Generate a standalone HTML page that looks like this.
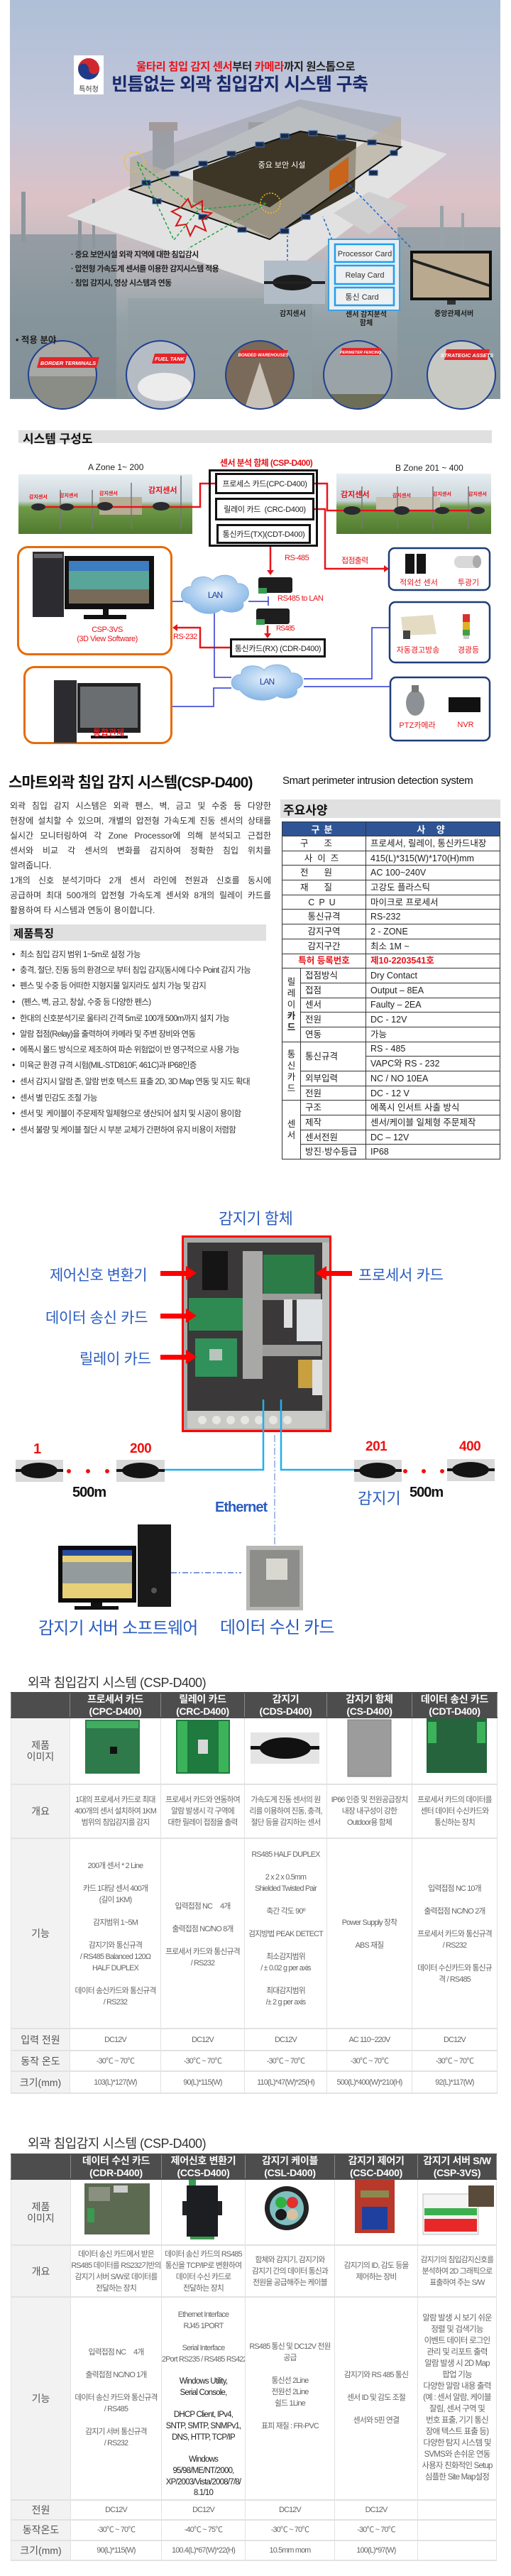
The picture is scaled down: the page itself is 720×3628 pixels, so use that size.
<!DOCTYPE html>
<html><head><meta charset="utf-8">
<style>
*{margin:0;padding:0;box-sizing:border-box}
body{width:720px;height:3628px;position:relative;background:#fff;overflow:hidden;font-family:"Liberation Sans","Noto Sans CJK KR",sans-serif;color:#222}
.a{position:absolute;white-space:nowrap}
.c{text-align:center}
.bx{position:absolute;border:3px solid #111;background:#fff;font-size:11px;display:flex;align-items:center;justify-content:center;letter-spacing:-0.3px}
.red{color:#e8141b}
.lbl{position:absolute;font-size:11px;white-space:nowrap;transform:translate(-50%,-50%)}
.blu{color:#2a5cc0;font-weight:bold}
.para div{position:absolute;left:14px;width:368px;font-size:12px;text-align:justify;text-align-last:justify;color:#333;line-height:14px;white-space:nowrap}
.bul div{position:absolute;left:17px;font-size:11.5px;letter-spacing:-0.7px;color:#333;white-space:nowrap;line-height:14px}
.bul div:before{content:"•";display:inline-block;width:11px;font-size:12px;color:#111}
table{border-collapse:collapse;table-layout:fixed;position:absolute}
.spec td{border:1.5px solid #333;font-size:12.5px;height:20.7px;padding:0 0 0 6px;white-space:nowrap;color:#222;line-height:16px}
.spec td.k{text-align:center;padding:0}
.spec th{background:#2f5496;color:#fff;font-size:13px;height:20px;border:1.5px solid #333;letter-spacing:6px}
.grp{text-align:center;font-size:12.5px;line-height:16px;padding:0!important}
.pt td,.pt th{border:1px solid #e2e2e2;border-width:2px 1px;text-align:center;font-size:10.8px;color:#666;letter-spacing:-0.8px;line-height:16px;padding:0;white-space:nowrap;overflow:hidden}
.pt th{background:#4d4d4d;color:#fff;font-size:14px;font-weight:bold;border-color:#4d4d4d #888;line-height:16.5px;letter-spacing:-0.3px}
.pt td.h{background:#f2f2f2;font-size:14px;color:#555;letter-spacing:0}
.pt td.t{vertical-align:top}
.pt td{vertical-align:middle}
</style></head><body>

<!-- HERO -->
<svg class="a" style="left:0;top:0" width="720" height="585" viewBox="0 0 720 585">
<defs>
<linearGradient id="sky" x1="0" y1="0" x2="0" y2="1">
<stop offset="0" stop-color="#aebfd7"/><stop offset="0.3" stop-color="#c3c6d8"/><stop offset="0.5" stop-color="#dcc2c6"/><stop offset="0.62" stop-color="#c4bcc0"/><stop offset="0.8" stop-color="#94a2a8"/><stop offset="1" stop-color="#8a9598"/></linearGradient>
<clipPath id="c1"><circle cx="88" cy="528" r="47"/></clipPath>
<clipPath id="c2"><circle cx="226" cy="528" r="47"/></clipPath>
<clipPath id="c3"><circle cx="366" cy="528" r="47"/></clipPath>
<clipPath id="c4"><circle cx="504" cy="528" r="47"/></clipPath>
<clipPath id="c5"><circle cx="650" cy="528" r="47"/></clipPath>
</defs>
<rect x="14" y="0" width="691" height="562" fill="url(#sky)"/>
<rect x="215" y="180" width="30" height="110" fill="#9c9ea6"/><rect x="210" y="172" width="40" height="12" fill="#a39a9c"/>
<rect x="355" y="180" width="28" height="80" fill="#9c9ea6"/><rect x="350" y="172" width="38" height="12" fill="#a39a9c"/>
<rect x="14" y="330" width="150" height="230" fill="#7f8f96" opacity="0.7"/>
<rect x="560" y="320" width="145" height="240" fill="#84959c" opacity="0.7"/>
<rect x="30" y="270" width="6" height="70" fill="#8c969c"/><rect x="110" y="300" width="5" height="60" fill="#8c969c"/><rect x="130" y="280" width="4" height="70" fill="#8c969c"/>
<rect x="620" y="290" width="5" height="60" fill="#99a4a8"/><rect x="650" y="300" width="4" height="60" fill="#99a4a8"/>
<rect x="180" y="420" width="260" height="140" fill="#8f9ea4" opacity="0.6"/>
<polygon points="94,304 420,150 630,217 383,404" fill="#e2e2e2"/>
<polygon points="272,240 422,185 502,200 500,270 380,335 272,285" fill="#3d3626"/>
<polygon points="183,267 423,185 423,140 183,222" fill="#9aa0a6" opacity="0.55"/>
<polygon points="423,185 565,207 565,165 423,140" fill="#9aa0a6" opacity="0.55"/>
<polygon points="183,267 380,337 380,292 183,222" fill="#b8b0a0" opacity="0.75"/>
<polygon points="380,337 565,207 565,165 380,292" fill="#b8b0a0" opacity="0.75"/>
<polygon points="183,267 423,185 565,207 380,337" fill="none" stroke="#111" stroke-width="2"/>
<g fill="#1b2a44" stroke="#3a6ec0" stroke-width="1">
<rect x="200" y="254" width="12" height="7"/><rect x="240" y="241" width="12" height="7"/><rect x="280" y="227" width="12" height="7"/><rect x="320" y="213" width="12" height="7"/><rect x="360" y="200" width="12" height="7"/><rect x="395" y="188" width="12" height="7"/>
<rect x="435" y="184" width="12" height="7"/><rect x="475" y="190" width="12" height="7"/><rect x="518" y="197" width="12" height="7"/><rect x="550" y="212" width="10" height="7"/>
<rect x="215" y="280" width="12" height="7"/><rect x="280" y="302" width="12" height="7"/><rect x="335" y="320" width="12" height="7"/>
<rect x="395" y="322" width="12" height="7"/><rect x="425" y="302" width="12" height="7"/><rect x="520" y="240" width="12" height="7"/>
</g>
<polygon points="464,241 491,221 491,255 464,270" fill="#c8651a"/>
<polygon points="470,300 520,270 575,290 520,330" fill="#cfcfcf"/>
<circle cx="189" cy="228" r="14" fill="none" stroke="#f2c21b" stroke-width="1.5" stroke-dasharray="2,2"/>
<circle cx="381" cy="286" r="14" fill="none" stroke="#f2c21b" stroke-width="1.5" stroke-dasharray="2,2"/>
<polyline points="193,228 280,295 245,338 193,228" fill="none" stroke="#20a040" stroke-width="1.5" stroke-dasharray="4,3"/>
<polyline points="280,295 376,286 265,350" fill="none" stroke="#20a040" stroke-width="1.5" stroke-dasharray="4,3"/>
<polygon points="255,292 265,280 270,292 285,283 285,298 298,300 285,310 290,325 275,318 268,332 262,316 248,318 255,305 242,298" fill="none" stroke="#d01818" stroke-width="2"/>
<text x="397" y="236" font-size="11" fill="#fff" text-anchor="middle" font-family="Liberation Sans,Noto Sans CJK KR,sans-serif">중요 보안 시설</text>
<g stroke="#1a66c8" stroke-width="1.5" stroke-dasharray="4,3" fill="none"><line x1="405" y1="390" x2="405" y2="332"/><line x1="468" y1="338" x2="455" y2="305"/><line x1="578" y1="348" x2="487" y2="255"/></g>
<rect x="104" y="78" width="42" height="55" fill="#fff"/>
<circle cx="125" cy="97" r="15" fill="#1f3a8a"/><path d="M110,97 A15,15 0 0 1 140,97 A7.5,7.5 0 0 1 125,97 A7.5,7.5 0 0 0 110,97Z" fill="#d1282e"/>
<text x="125" y="129" font-size="10" fill="#333" text-anchor="middle" font-family="Liberation Sans,Noto Sans CJK KR,sans-serif">특허청</text>
<rect x="372" y="367" width="86" height="61" fill="#9aa6b2"/><rect x="372" y="367" width="86" height="61" fill="#c9d2dc" opacity="0.5"/>
<ellipse cx="412" cy="398" rx="28" ry="11" fill="#1c1c1c"/><rect x="372" y="396" width="86" height="4" fill="#222"/>
<rect x="463" y="337" width="100" height="100" fill="#e9eef3" stroke="#3da3e0" stroke-width="2"/>
<g fill="#eef0f2" stroke="#1ea0f0" stroke-width="2.5"><rect x="472" y="344" width="83" height="25"/><rect x="472" y="374" width="83" height="26"/><rect x="472" y="405" width="83" height="25"/></g>
<g font-size="11" fill="#333" text-anchor="middle" font-family="Liberation Sans,Noto Sans CJK KR,sans-serif"><text x="514" y="361">Processor Card</text><text x="514" y="391">Relay Card</text><text x="510" y="422">통신 Card</text></g>
<rect x="578" y="353" width="115" height="70" fill="#111"/><rect x="582" y="357" width="107" height="62" fill="#b9a98f"/><polygon points="582,365 689,400 689,404 582,369" fill="#222"/>
<rect x="630" y="423" width="12" height="6" fill="#333"/>
<g><circle cx="88" cy="528" r="49" fill="#1f3f90"/><g clip-path="url(#c1)"><rect x="30" y="470" width="120" height="120" fill="#a8a8a4"/><rect x="30" y="530" width="120" height="60" fill="#8a8c86"/></g></g>
<g><circle cx="226" cy="528" r="49" fill="#1f3f90"/><g clip-path="url(#c2)"><rect x="170" y="470" width="120" height="120" fill="#b5bcc4"/><ellipse cx="232" cy="545" rx="38" ry="20" fill="#ececec"/></g></g>
<g><circle cx="366" cy="528" r="49" fill="#1f3f90"/><g clip-path="url(#c3)"><rect x="310" y="470" width="120" height="120" fill="#7a6a5a"/><polygon points="366,510 340,590 392,590" fill="#c9c2b8"/></g></g>
<g><circle cx="504" cy="528" r="49" fill="#1f3f90"/><g clip-path="url(#c4)"><rect x="450" y="470" width="120" height="120" fill="#9aa3a8"/><rect x="450" y="555" width="120" height="40" fill="#6c6e58"/></g></g>
<g><circle cx="650" cy="528" r="49" fill="#1f3f90"/><g clip-path="url(#c5)"><rect x="595" y="470" width="120" height="120" fill="#c9c9c4"/></g></g>
<g fill="#e3262b"><polygon points="56,503 140,503 136,518 52,518"/><polygon points="218,498 264,498 260,512 214,512"/><polygon points="340,493 406,493 402,504 336,504"/><polygon points="482,490 537,490 534,500 479,500"/><polygon points="629,492 690,492 687,507 626,507"/></g>
<g fill="#fff" font-size="7.5" font-weight="bold" font-style="italic" text-anchor="middle" font-family="Liberation Sans,sans-serif"><text x="96" y="514">BORDER TERMINALS</text><text x="239" y="508">FUEL TANK</text><text x="371" y="502" font-size="6">BONDED WAREHOUSES</text><text x="508" y="498" font-size="5.5">PERIMETER FENCING</text><text x="658" y="503">STRATEGIC ASSETS</text></g>
</svg>
<div class="a" style="left:192px;top:82px;font-size:15.5px;font-weight:bold;letter-spacing:-0.5px;color:#222"><span class="red">울타리 침입 감지 센서</span>부터 <span class="red">카메라</span>까지 원스톱으로</div>
<div class="a" style="left:157px;top:99px;font-size:25px;font-weight:bold;letter-spacing:-0.6px;color:#1b2a6b">빈틈없는 외곽 침입감지 시스템 구축</div>
<div class="a" style="left:100px;top:349px;font-size:11px;font-weight:bold;letter-spacing:-0.6px;color:#222;line-height:20px">· 중요 보안시설 외곽 지역에 대한 침입감시<br>· 압전형 가속도계 센서를 이용한 감지시스템 적용<br>· 침입 감지시, 영상 시스템과 연동</div>
<div class="a" style="left:394px;top:433px;font-size:10px;font-weight:bold;color:#222">감지센서</div>
<div class="a c" style="left:480px;top:438px;font-size:10px;font-weight:bold;color:#222;line-height:12px;width:72px">센서 감지분석<br>함체</div>
<div class="a" style="left:612px;top:433px;font-size:10px;font-weight:bold;color:#222">중앙관제서버</div>
<div class="a" style="left:22px;top:468px;font-size:12.5px;font-weight:bold;color:#222">• 적용 분야</div>

<!-- SYSTEM DIAGRAM -->
<div class="a" style="left:26px;top:606px;width:667px;height:18px;background:#e0e0e0"></div>
<div class="a" style="left:32px;top:604px;font-size:17px;font-weight:bold;color:#111">시스템 구성도</div>
<svg class="a" style="left:0;top:640px" width="720" height="420" viewBox="0 640 720 420">
<defs><radialGradient id="cl2" cx="0.5" cy="0.4" r="0.6"><stop offset="0" stop-color="#e6f1fc"/><stop offset="1" stop-color="#86b6e6"/></radialGradient>
<linearGradient id="ph" x1="0" y1="0" x2="0" y2="1"><stop offset="0" stop-color="#e8eef2"/><stop offset="0.45" stop-color="#c9d3d8"/><stop offset="0.55" stop-color="#6f9a48"/><stop offset="1" stop-color="#4f7a2e"/></linearGradient></defs>
<rect x="26" y="668" width="245" height="84" fill="url(#ph)"/>
<rect x="474" y="667" width="218" height="85" fill="url(#ph)"/>
<rect x="140" y="700" width="60" height="25" fill="#b7ad95"/><rect x="530" y="700" width="90" height="20" fill="#c7c1b2"/>
<g stroke="#777" stroke-width="1.5"><line x1="85" y1="690" x2="85" y2="745"/><line x1="130" y1="690" x2="130" y2="745"/><line x1="185" y1="680" x2="185" y2="745"/><line x1="255" y1="670" x2="255" y2="745"/><line x1="510" y1="685" x2="510" y2="745"/><line x1="560" y1="685" x2="560" y2="745"/><line x1="610" y1="685" x2="610" y2="745"/><line x1="660" y1="685" x2="660" y2="745"/></g>
<g stroke="#e8141b" stroke-width="2.5" fill="none"><line x1="54" y1="714" x2="227" y2="714"/><polyline points="227,714 282,714 282,681 303,681"/><polyline points="443,681 461,681 461,719 673,719"/>
<polyline points="443,717 458,717 458,801 541,801"/><line x1="381" y1="770" x2="381" y2="803"/><polyline points="377,881 377,893"/><polyline points="324,912 282,912 282,884 249,884"/></g>
<g fill="#e8141b"><polygon points="541,796 548,801 541,806"/><polygon points="376,803 386,803 381,810"/><polygon points="372,892 382,892 377,899"/><polygon points="250,879 243,884 250,889"/></g>
<g fill="#2a2a30"><ellipse cx="54" cy="714" rx="10" ry="5"/><ellipse cx="94" cy="714" rx="10" ry="5"/><ellipse cx="148" cy="713" rx="11" ry="6"/><ellipse cx="227" cy="713" rx="12" ry="6"/>
<ellipse cx="496" cy="719" rx="12" ry="6"/><ellipse cx="566" cy="719" rx="11" ry="6"/><ellipse cx="623" cy="719" rx="10" ry="5"/><ellipse cx="673" cy="719" rx="10" ry="5"/></g>
<g fill="#e8141b" font-size="7" font-family="Liberation Sans,Noto Sans CJK KR,sans-serif" font-weight="bold"><text x="41" y="702">감지센서</text><text x="84" y="700">감지센서</text><text x="140" y="697">감지센서</text><text x="209" y="694" font-size="11">감지센서</text><text x="480" y="700" font-size="11">감지센서</text><text x="553" y="700">감지센서</text><text x="610" y="698">감지센서</text><text x="660" y="698">감지센서</text></g>
<g stroke="#2a35d0" stroke-width="1.5" fill="none"><line x1="242" y1="847" x2="258" y2="847"/><line x1="350" y1="847" x2="378" y2="847"/><line x1="378" y1="840" x2="378" y2="853"/>
<polyline points="302,862 302,954 326,954"/><polyline points="428,956 524,956 524,884 549,884"/><line x1="428" y1="967" x2="549" y2="967"/><polyline points="242,995 301,995 301,969 326,969"/></g>
<path d="M268,850 C250,848 252,826 270,826 C268,812 292,808 300,818 C308,806 332,808 334,822 C352,820 356,842 342,848 C348,862 322,866 312,858 C302,868 276,866 268,850Z" fill="url(#cl2)" stroke="#8ab2dd" stroke-width="1"/>
<path d="M338,972 C322,972 322,950 340,950 C338,936 364,934 372,944 C380,932 408,934 410,948 C428,946 432,966 418,970 C422,984 398,986 390,980 C378,990 350,988 338,972Z" fill="url(#cl2)" stroke="#8ab2dd" stroke-width="1"/>
<g fill="#1f3fa0" font-size="12" font-family="Liberation Sans,sans-serif" text-anchor="middle" letter-spacing="-1"><text x="303" y="842">LAN</text><text x="376" y="964">LAN</text></g>
<rect x="364" y="813" width="48" height="22" rx="3" fill="#1e1e1e"/><rect x="364" y="828" width="12" height="8" fill="#3a9a50"/>
<rect x="361" y="857" width="47" height="22" rx="3" fill="#1e1e1e"/><rect x="361" y="872" width="12" height="8" fill="#3a9a50"/>
<rect x="25.5" y="770.5" width="216" height="151" rx="14" fill="none" stroke="#e46c0a" stroke-width="3"/>
<rect x="34.5" y="939.5" width="207" height="107" rx="14" fill="none" stroke="#e46c0a" stroke-width="3"/>
<rect x="46" y="777" width="44" height="92" fill="#2c2c30"/><rect x="48" y="780" width="40" height="6" fill="#666"/>
<rect x="91" y="783" width="126" height="75" fill="#111"/><rect x="97" y="790" width="113" height="60" fill="#5aa59a"/><rect x="97" y="790" width="113" height="14" fill="#3d7cc0"/><rect x="97" y="830" width="113" height="20" fill="#776a58"/>
<rect x="145" y="858" width="8" height="8" fill="#111"/><rect x="118" y="866" width="60" height="6" fill="#111"/>
<rect x="76" y="958" width="32" height="88" fill="#2c2c30"/><rect x="109" y="962" width="89" height="70" fill="#222"/><rect x="113" y="967" width="81" height="58" fill="#6a6e70"/><rect x="128" y="1036" width="52" height="4" fill="#111"/>
<g fill="none" stroke="#1f3c78" stroke-width="2.5"><rect x="548" y="772" width="142" height="59" rx="8"/><rect x="549" y="848" width="141" height="85" rx="8"/><rect x="550" y="954" width="140" height="89" rx="8"/></g>
<rect x="571" y="780" width="13" height="28" fill="#151515"/><rect x="587" y="780" width="13" height="28" fill="#151515"/>
<rect x="640" y="783" width="36" height="17" rx="8" fill="#d8d8d8"/><ellipse cx="672" cy="791" rx="6" ry="9" fill="#aaa"/>
<polygon points="565,869 610,866 615,893 568,895" fill="#e3dcc2"/><rect x="568" y="888" width="10" height="12" fill="#444"/>
<rect x="652" y="865" width="10" height="11" fill="#d83030"/><rect x="652" y="876" width="10" height="11" fill="#e0b020"/><rect x="652" y="887" width="10" height="8" fill="#40a040"/><rect x="653" y="895" width="8" height="5" fill="#ccc"/>
<ellipse cx="585" cy="990" rx="13" ry="18" fill="#8d9196"/><rect x="580" y="965" width="10" height="10" fill="#777"/>
<rect x="632" y="982" width="45" height="21" fill="#111"/>
</svg>
<div class="a c" style="left:124px;top:651px;font-size:12px;color:#222">A Zone 1~ 200</div>
<div class="a" style="left:557px;top:652px;font-size:12px;color:#222">B Zone 201 ~ 400</div>
<div class="a" style="left:310px;top:643px;font-size:12px;font-weight:bold;color:#e8141b;letter-spacing:-0.6px">센서 분석 함체 (CSP-D400)</div>
<div class="a" style="left:294px;top:661px;width:154px;height:109px;border:3px solid #111"></div>
<div class="bx" style="left:303px;top:666px;width:140px;height:30px">프로세스 카드(CPC-D400)</div>
<div class="bx" style="left:303px;top:701px;width:140px;height:32px">릴레이 카드 &nbsp;(CRC-D400)</div>
<div class="bx" style="left:305px;top:738px;width:133px;height:28px">통신카드(TX)(CDT-D400)</div>
<div class="bx" style="left:324px;top:899px;width:135px;height:27px">통신카드(RX) (CDR-D400)</div>
<div class="a red" style="left:401px;top:780px;font-size:11px;letter-spacing:-0.5px">RS-485</div>
<div class="a red" style="left:481px;top:781px;font-size:11px;letter-spacing:-0.8px">접점출력</div>
<div class="a red" style="left:391px;top:837px;font-size:11px;letter-spacing:-0.5px">RS485 to LAN</div>
<div class="a red" style="left:389px;top:880px;font-size:10px;letter-spacing:-1px">RS485</div>
<div class="a red" style="left:244px;top:891px;font-size:11px;letter-spacing:-0.6px">RS-232</div>
<div class="a red c" style="left:90px;top:881px;width:122px;font-size:11px;line-height:13px;letter-spacing:-0.5px">CSP-3VS<br>(3D View Software)</div>
<div class="a red" style="left:131px;top:1023px;font-size:12px;font-weight:bold">통합관제</div>
<div class="lbl red" style="left:590px;top:820px">적외선 센서</div>
<div class="lbl red" style="left:660px;top:820px">투광기</div>
<div class="lbl red" style="left:589px;top:915px">자동경고방송</div>
<div class="lbl red" style="left:660px;top:915px">경광등</div>
<div class="lbl red" style="left:588px;top:1021px">PTZ카메라</div>
<div class="lbl red" style="left:656px;top:1021px">NVR</div>

<!-- SECTION 3 -->
<div class="a" style="left:12px;top:1086px;font-size:21px;font-weight:bold;color:#111;letter-spacing:-0.8px">스마트외곽 침입 감지 시스템(CSP-D400)</div>
<div class="a" style="left:398px;top:1091px;font-size:15px;color:#111;letter-spacing:-0.4px">Smart perimeter intrusion detection system</div>
<div class="para">
<div style="top:1128px">외곽 침입 감지 시스템은 외곽 펜스, 벽, 금고 및 수중 등 다양한</div>
<div style="top:1149px">현장에 설치할 수 있으며, 개별의 압전형 가속도계 진동 센서의 상태를</div>
<div style="top:1170px">실시간 모니터링하여 각 Zone Processor에 의해 분석되고 근접한</div>
<div style="top:1191px">센서와 비교 각 센서의 변화를 감지하여 정확한 침입 위치를</div>
<div style="top:1212px;text-align-last:left">알려줍니다.</div>
<div style="top:1233px">1개의 신호 분석기마다 2개 센서 라인에 전원과 신호를 동시에</div>
<div style="top:1254px">공급하며 최대 500개의 압전형 가속도계 센서와 8개의 릴레이 카드를</div>
<div style="top:1275px;text-align-last:left">활용하여 타 시스템과 연동이 용이합니다.</div>
</div>
<div class="a" style="left:14px;top:1302px;width:361px;height:23px;background:#e0e0e0"></div>
<div class="a" style="left:19px;top:1303px;font-size:15.5px;font-weight:bold;color:#111">제품특징</div>
<div class="bul">
<div style="top:1337px">최소 침입 감지 범위 1~5m로 설정 가능</div>
<div style="top:1359px">충격, 절단, 진동 등의 환경으로 부터 침입 감지(동시에 다수 Point 감지 가능</div>
<div style="top:1381px">펜스 및 수중 등 어떠한 지형지물 일지라도 설치 가능 및 감지</div>
<div style="top:1404px">&nbsp;(펜스, 벽, 금고, 창살, 수중 등 다양한 펜스)</div>
<div style="top:1427px">한대의 신호분석기로 울타리 간격 5m로 100개 500m까지 설치 가능</div>
<div style="top:1449px">알람 접점(Relay)을 출력하여 카메라 및 주변 장비와 연동</div>
<div style="top:1471px">에폭시 몰드 방식으로 제조하여 파손 위험없이 반 영구적으로 사용 가능</div>
<div style="top:1493px">미육군 환경 규격 시험(MIL-STD810F, 461C)과 IP68인증</div>
<div style="top:1516px">센서 감지시 알람 존, 알람 번호 텍스트 표출 2D, 3D Map 연동 및 지도 확대</div>
<div style="top:1539px">센서 별 민감도 조절 가능</div>
<div style="top:1561px">센서 및 &nbsp;케이블이 주문제작 일체형으로 생산되어 설치 및 시공이 용이함</div>
<div style="top:1584px">센서 불량 및 케이블 절단 시 부분 교체가 간편하여 유지 비용이 저렴함</div>
</div>
<div class="a" style="left:395px;top:1126px;width:310px;height:26px;background:#e0e0e0"></div>
<div class="a" style="left:399px;top:1127px;font-size:17px;font-weight:bold;color:#111">주요사양</div>
<table class="spec" style="left:397px;top:1157px;width:307px">
<colgroup><col style="width:26px"><col style="width:92px"><col style="width:189px"></colgroup>
<tr><th colspan="2">구분</th><th>사 양</th></tr>
<tr><td class="k" colspan="2" style="letter-spacing:22px">구조</td><td>프로세서, 릴레이, 통신카드내장</td></tr>
<tr><td class="k" colspan="2" style="letter-spacing:7px">사이즈</td><td>415(L)*315(W)*170(H)mm</td></tr>
<tr><td class="k" colspan="2" style="letter-spacing:22px">전원</td><td>AC 100~240V</td></tr>
<tr><td class="k" colspan="2" style="letter-spacing:22px">재질</td><td>고강도 플라스틱</td></tr>
<tr><td class="k" colspan="2" style="letter-spacing:6px">CPU</td><td>마이크로 프로세서</td></tr>
<tr><td class="k" colspan="2">통신규격</td><td>RS-232</td></tr>
<tr><td class="k" colspan="2">감지구역</td><td>2 - ZONE</td></tr>
<tr><td class="k" colspan="2">감지구간</td><td>최소 1M ~</td></tr>
<tr><td class="k" colspan="2" style="color:#e8141b;font-weight:bold">특허 등록번호</td><td style="color:#e8141b;font-weight:bold">제10-2203541호</td></tr>
<tr><td class="grp" rowspan="5">릴<br>레<br>이<br><b>카<br>드</b></td><td>접점방식</td><td>Dry Contact</td></tr>
<tr><td>접점</td><td>Output – 8EA</td></tr>
<tr><td>센서</td><td>Faulty – 2EA</td></tr>
<tr><td>전원</td><td>DC - 12V</td></tr>
<tr><td>연동</td><td>가능</td></tr>
<tr><td class="grp" rowspan="4">통<br>신<br>카<br>드</td><td rowspan="2">통신규격</td><td>RS - 485</td></tr>
<tr><td>VAPC와 RS - 232</td></tr>
<tr><td>외부입력</td><td>NC / NO 10EA</td></tr>
<tr><td>전원</td><td>DC - 12 V</td></tr>
<tr><td class="grp" rowspan="4">센<br>서</td><td>구조</td><td>에폭시 인서트 사출 방식</td></tr>
<tr><td>제작</td><td>센서/케이블 일체형 주문제작</td></tr>
<tr><td>센서전원</td><td>DC – 12V</td></tr>
<tr><td>방진·방수등급</td><td>IP68</td></tr>
</table>

<!-- SECTION 4 -->
<div class="a blu" style="left:308px;top:1699px;font-size:22px;font-weight:normal;letter-spacing:-0.5px">감지기 함체</div>
<svg class="a" style="left:0;top:1735px" width="720" height="560" viewBox="0 1735 720 560">
<rect x="256" y="1740" width="211" height="277" fill="#ff0000"/>
<rect x="259" y="1743" width="205" height="271" fill="#a9aaa8"/>
<rect x="264" y="1750" width="190" height="237" fill="#3a3838"/>
<rect x="264" y="1987" width="195" height="25" fill="#c9c9c6"/>
<g fill="#e6e6e2"><circle cx="285" cy="2000" r="6"/><circle cx="305" cy="2000" r="6"/><circle cx="325" cy="2000" r="6"/><circle cx="345" cy="2000" r="6"/><circle cx="365" cy="2000" r="6"/><circle cx="385" cy="2000" r="6"/><circle cx="405" cy="2000" r="6"/></g>
<rect x="285" y="1762" width="36" height="55" fill="#151515"/>
<rect x="266" y="1828" width="76" height="46" fill="#2f8a52"/>
<rect x="275" y="1885" width="59" height="54" fill="#30925a"/><rect x="295" y="1900" width="18" height="16" fill="#b8c4bc"/>
<rect x="342" y="1762" width="28" height="180" fill="#a8a8a6"/>
<rect x="371" y="1767" width="72" height="55" fill="#2c7c48"/>
<rect x="370" y="1822" width="82" height="9" fill="#9c9c9a"/><rect x="370" y="1894" width="82" height="16" fill="#9c9c9a"/>
<rect x="418" y="1830" width="41" height="59" fill="#dfe2e4"/><rect x="400" y="1830" width="12" height="40" fill="#e0e0e0"/>
<rect x="420" y="1915" width="20" height="40" fill="#c8a040"/><rect x="440" y="1915" width="14" height="50" fill="#e0e0e0"/>
<rect x="454" y="1750" width="10" height="237" fill="#bdbdbb"/>
<g fill="#ff0000"><rect x="226" y="1790" width="40" height="7"/><polygon points="262,1783 277,1793 262,1803"/>
<rect x="226" y="1850" width="40" height="7"/><polygon points="262,1843 277,1853 262,1863"/>
<rect x="226" y="1908" width="40" height="7"/><polygon points="262,1901 277,1911 262,1921"/>
<rect x="458" y="1790" width="38" height="7"/><polygon points="460,1783 445,1793 460,1803"/></g>
<g stroke="#1eb0ec" stroke-width="2.5" fill="none"><polyline points="371,1971 371,2070 232,2070"/><polyline points="396,1971 396,2070 499,2070"/></g>
<line x1="387" y1="2021" x2="387" y2="2230" stroke="#7a9ad8" stroke-width="1.3" stroke-dasharray="10,3,2,3"/>
<line x1="241" y1="2215" x2="340" y2="2215" stroke="#7a9ad8" stroke-width="2" stroke-dasharray="8,3,2,3"/>
<g><rect x="22" y="2056" width="67" height="31" fill="#d9d9d9"/><ellipse cx="55" cy="2071" rx="26" ry="11" fill="#141414"/><rect x="22" y="2069" width="67" height="4" fill="#141414"/>
<rect x="164" y="2056" width="68" height="31" fill="#d9d9d9"/><ellipse cx="198" cy="2071" rx="26" ry="11" fill="#141414"/><rect x="164" y="2069" width="68" height="4" fill="#141414"/>
<rect x="499" y="2056" width="67" height="31" fill="#d9d9d9"/><ellipse cx="532" cy="2071" rx="26" ry="11" fill="#141414"/><rect x="499" y="2069" width="67" height="4" fill="#141414"/>
<rect x="630" y="2055" width="67" height="31" fill="#d9d9d9"/><ellipse cx="663" cy="2070" rx="26" ry="11" fill="#141414"/><rect x="630" y="2068" width="67" height="4" fill="#141414"/></g>
<g fill="#ee1111"><circle cx="97" cy="2072" r="3"/><circle cx="124" cy="2072" r="3"/><circle cx="151" cy="2072" r="3"/><circle cx="571" cy="2072" r="3"/><circle cx="597" cy="2072" r="3"/><circle cx="623" cy="2072" r="3"/></g>
<rect x="194" y="2147" width="47" height="116" fill="#1a1a1a"/><circle cx="217" cy="2240" r="4" fill="#555"/>
<rect x="82" y="2177" width="110" height="80" fill="#0c0c0c"/><rect x="88" y="2183" width="98" height="68" fill="#e8d078"/><rect x="88" y="2183" width="98" height="8" fill="#2a4aa0"/><rect x="88" y="2200" width="98" height="30" fill="#5a7ab0" opacity="0.6"/>
<rect x="128" y="2257" width="16" height="6" fill="#111"/><rect x="105" y="2262" width="62" height="5" fill="#111"/>
<rect x="347" y="2177" width="80" height="91" fill="#b7b8b5"/><rect x="352" y="2183" width="70" height="80" fill="#8d8e8a"/><rect x="375" y="2195" width="30" height="30" fill="#d8d8d0"/>
</svg>
<div class="a blu" style="left:70px;top:1780px;font-size:21px;font-weight:normal;letter-spacing:-0.5px">제어신호 변환기</div>
<div class="a blu" style="left:64px;top:1840px;font-size:21px;font-weight:normal;letter-spacing:-0.3px">데이터 송신 카드</div>
<div class="a blu" style="left:112px;top:1898px;font-size:21px;font-weight:normal;letter-spacing:-0.3px">릴레이 카드</div>
<div class="a blu" style="left:505px;top:1780px;font-size:21px;font-weight:normal;letter-spacing:-0.3px">프로세서 카드</div>
<div class="a" style="left:47px;top:2030px;font-size:20px;font-weight:bold;color:#ee1111">1</div>
<div class="a" style="left:183px;top:2030px;font-size:19px;font-weight:bold;color:#ee1111;letter-spacing:-0.5px">200</div>
<div class="a" style="left:515px;top:2027px;font-size:19px;font-weight:bold;color:#ee1111;letter-spacing:-0.5px">201</div>
<div class="a" style="left:647px;top:2027px;font-size:19px;font-weight:bold;color:#ee1111;letter-spacing:-0.5px">400</div>
<div class="a" style="left:102px;top:2091px;font-size:20px;font-weight:bold;color:#111;letter-spacing:-1px">500m</div>
<div class="a" style="left:577px;top:2091px;font-size:20px;font-weight:bold;color:#111;letter-spacing:-1px">500m</div>
<div class="a blu" style="left:504px;top:2093px;font-size:22px;font-weight:normal">감지기</div>
<div class="a blu" style="left:303px;top:2112px;font-size:20px;letter-spacing:-1px">Ethernet</div>
<div class="a blu" style="left:54px;top:2273px;font-size:24px;font-weight:normal;letter-spacing:-0.8px">감지기 서버 소프트웨어</div>
<div class="a blu" style="left:310px;top:2272px;font-size:24px;font-weight:normal;letter-spacing:-0.8px">데이터 수신 카드</div>

<!-- PRODUCT TABLE 1 -->
<div class="a" style="left:39px;top:2356px;font-size:18px;color:#333;letter-spacing:-0.5px">외곽 침입감지 시스템 (CSP-D400)</div>
<table class="pt" style="left:15px;top:2383px;width:685px">
<colgroup><col style="width:83px"><col style="width:128px"><col style="width:118px"><col style="width:116px"><col style="width:120px"><col style="width:120px"></colgroup>
<tr style="height:34px"><th></th><th>프로세서 카드<br>(CPC-D400)</th><th>릴레이 카드<br>(CRC-D400)</th><th>감지기<br>(CDS-D400)</th><th>감지기 함체<br>(CS-D400)</th><th>데이터 송신 카드<br>(CDT-D400)</th></tr>
<tr style="height:94px"><td class="h">제품<br>이미지</td><td></td><td></td><td></td><td></td><td></td></tr>
<tr style="height:76px"><td class="h">개요</td><td>1대의 프로세서 카드로 최대<br>400개의 센서 설치하여 1KM<br>범위의 침입감지를 감지</td><td>프로세서 카드와 연동하여<br>알람 발생시 각 구역에<br>대한 릴레이 접점을 출력</td><td>가속도계 진동 센서의 원<br>리를 이용하여 진동, 충격,<br>절단 등을 감지하는 센서</td><td>IP66 인증 및 전원공급장치<br>내장 내구성이 강한<br>Outdoor용 함체</td><td>프로세서 카드의 데이터를<br>센터 데이터 수신카드와<br>통신하는 장치</td></tr>
<tr style="height:268px"><td class="h">기능</td>
<td class="t" style="padding-top:30px">200개 센서 * 2 Line<br><br>카드 1대당 센서 400개<br>(길이 1KM)<br><br>감지범위 1~5M<br><br>감지기와 통신규격<br>/ RS485 Balanced 120Ω<br>HALF DUPLEX<br><br>데이터 송신카드와 통신규격<br>/ RS232</td>
<td class="t" style="padding-top:87px">입력접점 NC &nbsp;&nbsp;&nbsp;&nbsp;4개<br><br>출력접점 NC/NO 8개<br><br>프로세서 카드와 통신규격<br>/ RS232</td>
<td class="t" style="padding-top:14px">RS485 HALF DUPLEX<br><br>2 x 2 x 0.5mm<br>Shielded Twisted Pair<br><br>축간 각도 90º<br><br>검지방법 PEAK DETECT<br><br>최소감지범위<br>/ ± 0.02 g per axis<br><br>최대감지범위<br>/± 2 g per axis</td>
<td class="t" style="padding-top:110px">Power Supply 장착<br><br>ABS 재질</td>
<td class="t" style="padding-top:62px">입력접점 NC 10개<br><br>출력접점 NC/NO 2개<br><br>프로세서 카드와 통신규격<br>/ RS232<br><br>데이터 수신카드와 통신규<br>격 / RS485</td></tr>
<tr style="height:31px"><td class="h">입력 전원</td><td>DC12V</td><td>DC12V</td><td>DC12V</td><td>AC 110~220V</td><td>DC12V</td></tr>
<tr style="height:29px"><td class="h">동작 온도</td><td>-30℃ ~ 70℃</td><td>-30℃ ~ 70℃</td><td>-30℃ ~ 70℃</td><td>-30℃ ~ 70℃</td><td>-30℃ ~ 70℃</td></tr>
<tr style="height:31px"><td class="h">크기(mm)</td><td>103(L)*127(W)</td><td>90(L)*115(W)</td><td>110(L)*47(W)*25(H)</td><td>500(L)*400(W)*210(H)</td><td>92(L)*117(W)</td></tr>
</table>
<svg class="a" style="left:0;top:2415px" width="720" height="100" viewBox="0 2415 720 100">
<rect x="120" y="2422" width="77" height="76" fill="#2e7a4a"/><rect x="122" y="2424" width="73" height="10" fill="#3fae5f"/><rect x="155" y="2460" width="10" height="10" fill="#111"/>
<rect x="248" y="2422" width="76" height="76" fill="#1e7a3e"/><rect x="250" y="2424" width="14" height="72" fill="#3cb35a"/><rect x="308" y="2424" width="14" height="72" fill="#3cb35a"/><rect x="279" y="2450" width="14" height="20" fill="#d8d8d8"/>
<rect x="353" y="2440" width="97" height="44" fill="#e4e4e4"/><ellipse cx="402" cy="2462" rx="36" ry="15" fill="#111"/><rect x="353" y="2459" width="97" height="5" fill="#111"/>
<rect x="490" y="2422" width="61" height="80" fill="#9c9c9c" stroke="#777"/>
<rect x="601" y="2420" width="85" height="77" fill="#25643c"/><rect x="603" y="2425" width="12" height="30" fill="#3cb35a"/><rect x="672" y="2425" width="12" height="30" fill="#3cb35a"/>
</svg>

<!-- PRODUCT TABLE 2 -->
<div class="a" style="left:39px;top:3005px;font-size:18px;color:#333;letter-spacing:-0.5px">외곽 침입감지 시스템 (CSP-D400)</div>
<table class="pt" style="left:15px;top:3033px;width:684px">
<colgroup><col style="width:84px"><col style="width:128px"><col style="width:118px"><col style="width:126px"><col style="width:117px"><col style="width:111px"></colgroup>
<tr style="height:34px"><th></th><th>데이터 수신 카드<br>(CDR-D400)</th><th>제어신호 변환기<br>(CCS-D400)</th><th>감지기 케이블<br>(CSL-D400)</th><th>감지기 제어기<br>(CSC-D400)</th><th>감지기 서버 S/W<br>(CSP-3VS)</th></tr>
<tr style="height:93px"><td class="h">제품<br>이미지</td><td></td><td></td><td></td><td></td><td></td></tr>
<tr style="height:73px"><td class="h">개요</td><td>데이터 송신 카드에서 받은<br>RS485 데이터를 RS232기반의<br>감지기 서버 S/W로 데이터를<br>전달하는 장치</td><td>데이터 송신 카드의 RS485<br>통신을 TCP/IP로 변환하여<br>데이터 수신 카드로<br>전달하는 장치</td><td>함체와 감지기, 감지기와<br>감지기 간의 데이터 통신과<br>전원을 공급해주는 케이블</td><td>감지기의 ID, 감도 등을<br>제어하는 장비</td><td>감지기의 침입감지신호를<br>분석하여 2D 그래픽으로<br>표출하여 주는 S/W</td></tr>
<tr style="height:281px"><td class="h">기능</td>
<td class="t" style="padding-top:69px">입력접점 NC &nbsp;&nbsp;&nbsp;&nbsp;4개<br><br>출력접점 NC/NO 1개<br><br>데이터 송신 카드와 통신규격<br>/ RS485<br><br>감지기 서버 통신규격<br>/ RS232</td>
<td class="t" style="padding-top:17px;line-height:15.7px">Ethernet Interface<br>RJ45 1PORT<br><br>Serial Interface<br>2Port RS235 / RS485 RS422<br><br><span style="color:#222;font-size:11.5px">Windows Utility,<br>Serial Console,<br><br>DHCP Client, IPv4,<br>SNTP, SMTP, SNMPv1,<br>DNS, HTTP, TCP/IP<br><br>Windows<br>95/98/ME/NT/2000,<br>XP/2003/Vista/2008/7/8/<br>8.1/10</span></td>
<td class="t" style="padding-top:61px">RS485 통신 및 DC12V 전원<br>공급<br><br>통신선 2Line<br>전원선 2Line<br>쉴드 1Line<br><br>표피 재질 : FR-PVC</td>
<td class="t" style="padding-top:101px">감지기와 RS 485 통신<br><br>센서 ID 및 감도 조절<br><br>센서와 5핀 연결</td>
<td class="t" style="padding-top:21px;font-size:11.5px">알람 발생 시 보기 쉬운<br>정렬 및 검색기능<br>이벤트 데이터 로그인<br>관리 및 리포트 출력<br>알람 발생 시 2D Map<br>팝업 기능<br>다양한 알람 내용 출력<br>(예 : 센서 알람, 케이블<br>잘림, 센서 구역 및<br>번호 표출, 기기 통신<br>장애 텍스트 표출 등)<br>다양한 탐지 시스템 및<br>SVMS와 손쉬운 연동<br>사용자 친화적인 Setup<br>심플한 Site Map설정</td></tr>
<tr style="height:28px"><td class="h">전원</td><td>DC12V</td><td>DC12V</td><td>DC12V</td><td>DC12V</td><td></td></tr>
<tr style="height:29px"><td class="h">동작온도</td><td>-30℃ ~ 70℃</td><td>-40℃ ~ 75℃</td><td>-30℃ ~ 70℃</td><td>-30℃ ~ 70℃</td><td></td></tr>
<tr style="height:28px"><td class="h">크기(mm)</td><td>90(L)*115(W)</td><td>100.4(L)*67(W)*22(H)</td><td>10.5mm mom</td><td>100(L)*97(W)</td><td></td></tr>
</table>
<svg class="a" style="left:0;top:3065px" width="720" height="95" viewBox="0 3065 720 95">
<rect x="119" y="3075" width="92" height="72" fill="#5c6a52"/><rect x="125" y="3080" width="30" height="20" fill="#8a9080"/><rect x="160" y="3078" width="20" height="10" fill="#ccc"/><rect x="123" y="3110" width="10" height="20" fill="#3a9a50"/>
<rect x="263" y="3078" width="44" height="72" fill="#1c1e22"/><rect x="257" y="3100" width="6" height="20" fill="#222"/><rect x="307" y="3100" width="6" height="20" fill="#222"/><rect x="266" y="3070" width="10" height="8" fill="#3a9a50"/><rect x="268" y="3150" width="34" height="4" fill="#3a9a50"/>
<circle cx="404" cy="3110" r="31" fill="#222"/><circle cx="404" cy="3110" r="24" fill="#7fbfc0"/><circle cx="396" cy="3102" r="8" fill="#30b040"/><circle cx="412" cy="3102" r="8" fill="#e03030"/><circle cx="396" cy="3119" r="8" fill="#1a1a1a"/><circle cx="412" cy="3119" r="8" fill="#d8c0a0"/>
<rect x="500" y="3069" width="56" height="76" fill="#b8382a"/><rect x="508" y="3085" width="40" height="10" fill="#8a8a50"/><rect x="510" y="3108" width="36" height="32" fill="#2040a0"/>
<rect x="596" y="3090" width="78" height="57" fill="#f4f4f4" stroke="#bbb"/><rect x="598" y="3110" width="74" height="10" fill="#3cb050"/><rect x="598" y="3125" width="74" height="18" fill="#e82828"/><rect x="660" y="3078" width="36" height="30" fill="#5a4a3a"/>
</svg>
</body></html>
